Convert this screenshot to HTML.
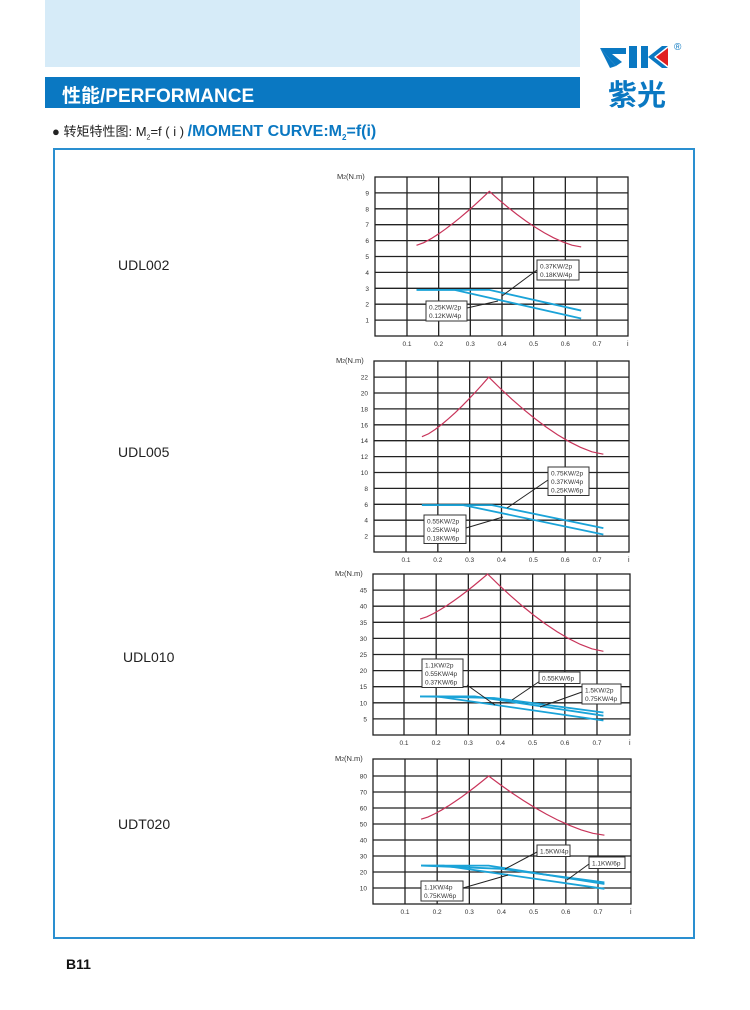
<!DOCTYPE html>
<html><head><meta charset="utf-8">
<style>
body{margin:0;width:750px;height:1010px;background:#fff;position:relative;overflow:hidden;font-family:"Liberation Sans","Noto Sans CJK SC",sans-serif}
.abs{position:absolute}
</style></head><body>
<div class="abs" style="left:45px;top:0;width:535px;height:67px;background:#d6ebf8"></div>
<div class="abs" style="left:45px;top:77px;width:535px;height:31px;background:#0a78c2"></div>
<div class="abs" style="left:62px;top:81px;color:#fff;font-weight:bold;font-size:19px;font-family:'Liberation Sans','Noto Sans CJK SC',sans-serif">性能/PERFORMANCE</div>
<svg class="abs" style="left:596px;top:40px" width="100" height="70">
<polygon points="4,8 30,8 30,14 16,14 26,22 20,26" fill="#0a78c2"/>
<polygon points="4,8 20,26 14,28" fill="#0a78c2"/>
<rect x="33" y="6" width="8" height="22" fill="#0a78c2"/>
<rect x="45" y="6" width="7" height="22" fill="#0a78c2"/>
<polygon points="52,17 66,6 72,6 58,17 72,28 66,28" fill="#0a78c2"/>
<polygon points="72,8 72,26 60,17" fill="#e02020"/>
<text x="78" y="10" font-size="10" fill="#0a78c2">®</text>
<text x="12" y="65" font-size="29" font-weight="bold" fill="#0a78c2" font-family="Noto Sans CJK SC,sans-serif">紫光</text>
</svg>
<div class="abs" style="left:52px;top:121px;font-size:13px;color:#222;white-space:nowrap">● 转矩特性图: M<sub style="font-size:7px">2</sub>=f ( i ) <span style="color:#0a78c2;font-weight:bold;font-size:16px">/MOMENT CURVE:M<sub style="font-size:8px">2</sub>=f(i)</span></div>
<div class="abs" style="left:53px;top:148px;width:642px;height:791px;border:2px solid #2a8fd0;box-sizing:border-box"></div>
<div class="abs" style="left:118px;top:257px;font-size:14px;color:#222">UDL002</div>
<div class="abs" style="left:118px;top:444px;font-size:14px;color:#222">UDL005</div>
<div class="abs" style="left:123px;top:649px;font-size:14px;color:#222">UDL010</div>
<div class="abs" style="left:118px;top:816px;font-size:14px;color:#222">UDT020</div>
<div class="abs" style="left:66px;top:956px;font-size:14px;font-weight:bold;color:#111">B11</div>
<svg id="s" class="abs" style="left:0;top:0" width="750" height="1010"></svg>
<script>
var S=document.getElementById('s'),h='';
function C(o){
 var X=function(i){return o.x1+(i-0.1)*(o.x7-o.x1)/0.6},Y=function(v){return o.B-v*o.k};
 var top=o.T;
 for(var i=1;i<=7;i++){h+='<line x1="'+X(i/10)+'" y1="'+top+'" x2="'+X(i/10)+'" y2="'+o.B+'" stroke="#222" stroke-width="1.3"/>';
  h+='<text x="'+X(i/10)+'" y="'+(o.B+10)+'" font-size="6.5" text-anchor="middle" fill="#333">0.'+i+'</text>';}
 h+='<text x="'+(o.R-1)+'" y="'+(o.B+10)+'" font-size="7" fill="#333">i</text>';
 o.ticks.forEach(function(v){h+='<line x1="'+o.L+'" y1="'+Y(v)+'" x2="'+o.R+'" y2="'+Y(v)+'" stroke="#222" stroke-width="1.3"/>';
  h+='<text x="'+(o.L-6)+'" y="'+(Y(v)+2.5)+'" font-size="6.5" text-anchor="end" fill="#333">'+v+'</text>';});
 h+='<rect x="'+o.L+'" y="'+top+'" width="'+(o.R-o.L)+'" height="'+(o.B-top)+'" fill="none" stroke="#222" stroke-width="1.3"/>';
 h+='<text x="'+(o.L-38)+'" y="'+(top+2)+'" font-size="7.5" fill="#333">'+o.lab+'</text>';
 function pl(pts,c,w){h+='<polyline fill="none" stroke="'+c+'" stroke-width="'+w+'" points="'+pts.map(function(p){return X(p[0])+','+Y(p[1])}).join(' ')+'"/>';}
 pl(o.red,'#c8345a',1.2);
 o.blue.forEach(function(b){pl(b,'#1aa3d8',1.8)});
 o.boxes.forEach(function(b){
  h+='<line x1="'+b.lx+'" y1="'+b.ly+'" x2="'+b.tx+'" y2="'+b.ty+'" stroke="#222" stroke-width="1"/>';
  h+='<rect x="'+b.x+'" y="'+b.y+'" width="'+b.w+'" height="'+(b.t.length*8.5+3)+'" fill="#fff" stroke="#333" stroke-width="1"/>';
  b.t.forEach(function(t,j){h+='<text x="'+(b.x+3)+'" y="'+(b.y+8.5+j*8.5)+'" font-size="6.5" fill="#333">'+t+'</text>'});
 });
}
function curve(a,pk,b,va,vp,vb){var r=[];for(var t=0;t<=1.001;t+=0.1){r.push([a+(pk-a)*t,va+(vp-va)*Math.pow(t,1.3)]);}for(t=0.1;t<=1.001;t+=0.1){r.push([pk+(b-pk)*t,vp-(vp-vb)*(1-Math.pow(1-t,1.5))]);}return r;}
C({L:375,R:628,T:177,B:336,x1:407,x7:597,k:15.9,ticks:[1,2,3,4,5,6,7,8,9],lab:'M<tspan font-size="5">2</tspan>(N.m)',
 red:curve(0.13,0.36,0.65,5.7,9.1,5.6),
 blue:[[[0.13,2.9],[0.25,2.9],[0.65,1.1]],[[0.13,2.9],[0.36,2.9],[0.65,1.6]]],
 boxes:[{x:537,y:260,w:42,t:['0.37KW/2p','0.18KW/4p'],lx:537,ly:270,tx:502,ty:296},{x:426,y:301,w:41,t:['0.25KW/2p','0.12KW/4p'],lx:467,ly:308,tx:498,ty:301}]});
C({L:374,R:629,T:361,B:552,x1:406,x7:597,k:7.95,ticks:[2,4,6,8,10,12,14,16,18,20,22],lab:'M<tspan font-size="5">2</tspan>(N.m)',
 red:curve(0.15,0.36,0.72,14.5,22,12.3),
 blue:[[[0.15,5.9],[0.28,5.9],[0.72,2.2]],[[0.15,5.9],[0.37,5.9],[0.72,3]]],
 boxes:[{x:548,y:467,w:41,t:['0.75KW/2p','0.37KW/4p','0.25KW/6p'],lx:548,ly:480,tx:507,ty:508},{x:424,y:515,w:42,t:['0.55KW/2p','0.25KW/4p','0.18KW/6p'],lx:466,ly:528,tx:503,ty:517}]});
C({L:373,R:630,T:574,B:735,x1:404,x7:597,k:3.22,ticks:[5,10,15,20,25,30,35,40,45],lab:'M<tspan font-size="5">2</tspan>(N.m)',
 red:curve(0.15,0.36,0.72,36,50,26),
 blue:[[[0.15,12],[0.2,12],[0.72,4.5]],[[0.15,12],[0.32,12],[0.72,6]],[[0.15,12],[0.38,11.5],[0.72,7]]],
 boxes:[{x:422,y:659,w:41,t:['1.1KW/2p','0.55KW/4p','0.37KW/6p'],lx:467,ly:685,tx:495,ty:705},{x:539,y:672,w:41,t:['0.55KW/6p'],lx:540,ly:681,tx:512,ty:700},{x:582,y:684,w:39,t:['1.5KW/2p','0.75KW/4p'],lx:582,ly:692,tx:540,ty:707}]});
C({L:373,R:631,T:759,B:904,x1:405,x7:598,k:1.6,ticks:[10,20,30,40,50,60,70,80],lab:'M<tspan font-size="5">2</tspan>(N.m)',
 red:curve(0.15,0.36,0.72,53,80,43),
 blue:[[[0.15,24],[0.22,24],[0.72,9.5]],[[0.15,24],[0.36,24],[0.72,12.5]],[[0.15,24],[0.4,22],[0.72,13.5]]],
 boxes:[{x:537,y:845,w:33,t:['1.5KW/4p'],lx:537,ly:852,tx:505,ty:869},{x:589,y:857,w:36,t:['1.1KW/6p'],lx:589,ly:864,tx:567,ty:880},{x:421,y:881,w:42,t:['1.1KW/4p','0.75KW/6p'],lx:463,ly:888,tx:508,ty:875}]});
S.innerHTML=h;
</script>
</body></html>
